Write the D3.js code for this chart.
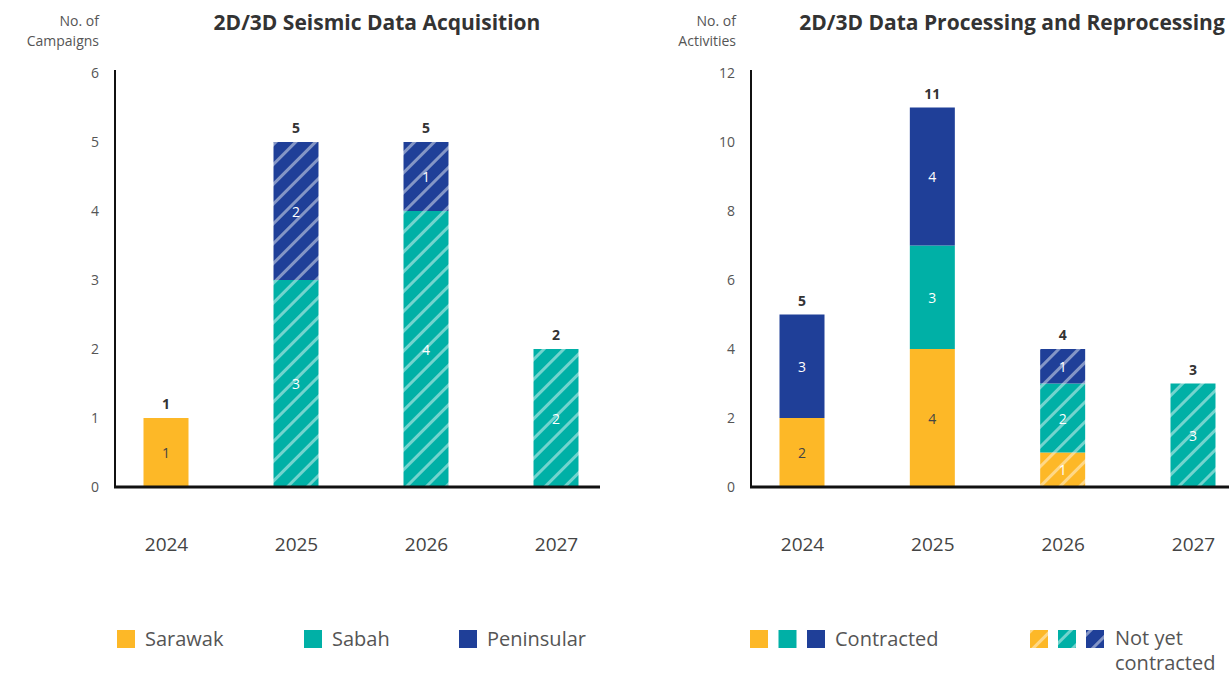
<!DOCTYPE html>
<html>
<head>
<meta charset="utf-8">
<script src="https://cdn.jsdelivr.net/npm/d3@7"></script>
<style>
  body { margin: 0; background: #fff; font-family: 'Open Sans', sans-serif; }
</style>
</head>
<body>
<div id="chart"></div>
<script>
let years = ['2024', '2025', '2026', '2027']
let regions = ['Sarawak', 'Sabah', 'Peninsular']

// seismic acquisition campaigns
let acqSarawak = [1, 0, 0, 0]
let acqSabah = [0, 3, 4, 2]
let acqPeninsular = [0, 2, 1, 0]
let acqContracted = [true, false, false, false]

// processing / reprocessing activities
let procSarawak = [2, 4, 1, 0]
let procSabah = [0, 3, 2, 3]
let procPeninsular = [3, 4, 1, 0]
let procContracted = [true, true, false, false]

let acqTicks = [0, 1, 2, 3, 4, 5, 6]
let procTicks = [0, 2, 4, 6, 8, 10, 12]

let colorScale = d3.scaleOrdinal()
  .domain(regions)
  .range(['#FDB827', '#00B0A6', '#1F3F98'])

let width = 1229
let height = 675
let font = "'Open Sans', sans-serif"

let svg = d3.select('#chart')
  .append('svg')
  .attr('width', width)
  .attr('height', height)
  .attr('font-family', font)

let defs = svg.append('defs')
regions.forEach(r => {
  let p = defs.append('pattern')
    .attr('id', 'hatch-' + r)
    .attr('patternUnits', 'userSpaceOnUse')
    .attr('width', 14)
    .attr('height', 14)
    .attr('patternTransform', 'rotate(45)')
  p.append('rect')
    .attr('width', 14)
    .attr('height', 14)
    .attr('fill', colorScale(r))
  p.append('rect')
    .attr('x', 0)
    .attr('width', 3)
    .attr('height', 14)
    .attr('fill', 'rgba(255,255,255,0.45)')
})

function drawChart(opts) {
  let g = svg.append('g')

  let xPositionScale = d3.scalePoint()
    .domain(years)
    .range(opts.xRange)

  let yPositionScale = d3.scaleLinear()
    .domain([0, opts.max])
    .range([487, 73])

  let rows = years.map((y, i) => ({
    year: y,
    Sarawak: opts.data[0][i],
    Sabah: opts.data[1][i],
    Peninsular: opts.data[2][i],
    contracted: opts.contracted[i]
  }))

  let stacked = d3.stack().keys(regions)(rows)

  let barW = 45

  stacked.forEach(layer => {
    let key = layer.key
    g.selectAll('.bar-' + key)
      .data(layer.filter(d => d[1] > d[0]))
      .enter()
      .append('rect')
      .attr('x', d => xPositionScale(d.data.year) - barW / 2)
      .attr('y', d => yPositionScale(d[1]))
      .attr('width', barW)
      .attr('height', d => yPositionScale(d[0]) - yPositionScale(d[1]))
      .attr('fill', d => d.data.contracted ? colorScale(key) : `url(#hatch-${key})`)

    g.selectAll('.val-' + key)
      .data(layer.filter(d => d[1] > d[0]))
      .enter()
      .append('text')
      .attr('x', d => xPositionScale(d.data.year))
      .attr('y', d => (yPositionScale(d[0]) + yPositionScale(d[1])) / 2)
      .attr('text-anchor', 'middle')
      .attr('dominant-baseline', 'central')
      .attr('font-size', 14)
      .attr('fill', d => (key === 'Sarawak' && d.data.contracted) ? '#444' : '#fff')
      .text(d => d[1] - d[0])
  })

  // totals
  g.selectAll('.total')
    .data(rows)
    .enter()
    .append('text')
    .attr('x', d => xPositionScale(d.year))
    .attr('y', d => yPositionScale(d.Sarawak + d.Sabah + d.Peninsular) - 9)
    .attr('text-anchor', 'middle')
    .attr('font-size', 14)
    .attr('font-weight', 'bold')
    .attr('fill', '#333')
    .text(d => d.Sarawak + d.Sabah + d.Peninsular)

  // y axis
  let yAxis = d3.axisLeft(yPositionScale)
    .tickValues(opts.ticks)
    .tickFormat(d3.format('d'))
    .tickSize(0)
    .tickPadding(16)
  let ya = g.append('g')
    .attr('transform', `translate(${opts.axisX},0)`)
    .call(yAxis)
  ya.select('.domain').remove()
  ya.selectAll('text')
    .attr('font-size', 14)
    .attr('font-family', font)
    .attr('fill', '#555')

  g.append('line')
    .attr('x1', opts.axisX)
    .attr('x2', opts.axisX)
    .attr('y1', 70)
    .attr('y2', 487)
    .attr('stroke', '#111')
    .attr('stroke-width', 2)

  // x axis
  let xAxis = d3.axisBottom(xPositionScale).tickSize(0).tickPadding(51)
  let xa = g.append('g')
    .attr('transform', 'translate(0,487)')
    .call(xAxis)
  xa.select('.domain').remove()
  xa.selectAll('text')
    .attr('font-size', 19)
    .attr('font-family', font)
    .attr('fill', '#444')

  g.append('line')
    .attr('x1', opts.axisX - 1)
    .attr('x2', opts.axisEnd)
    .attr('y1', 487)
    .attr('y2', 487)
    .attr('stroke', '#111')
    .attr('stroke-width', 3)

  // titles
  g.append('text')
    .attr('x', opts.titleX)
    .attr('y', 30)
    .attr('text-anchor', 'middle')
    .attr('font-size', 21)
    .attr('font-weight', 'bold')
    .attr('fill', '#333')
    .text(opts.title)

  opts.yLabel.forEach((t, i) => {
    g.append('text')
      .attr('x', opts.yLabelX)
      .attr('y', 26 + i * 20)
      .attr('text-anchor', 'end')
      .attr('font-size', 14)
      .attr('fill', '#555')
      .text(t)
  })
}

drawChart({
  data: [acqSarawak, acqSabah, acqPeninsular],
  contracted: acqContracted,
  max: 6,
  ticks: acqTicks,
  xRange: [166, 556],
  axisX: 115,
  axisEnd: 600,
  title: '2D/3D Seismic Data Acquisition',
  titleX: 377,
  yLabel: ['No. of', 'Campaigns'],
  yLabelX: 99
})

drawChart({
  data: [procSarawak, procSabah, procPeninsular],
  contracted: procContracted,
  max: 12,
  ticks: procTicks,
  xRange: [802, 1193],
  axisX: 751,
  axisEnd: 1229,
  title: '2D/3D Data Processing and Reprocessing',
  titleX: 1012,
  yLabel: ['No. of', 'Activities'],
  yLabelX: 736
})

// legend left
let legend = svg.append('g').attr('transform', 'translate(0,630)')
let legendX = [117, 304, 459]
legend.selectAll('.legend-entry')
  .data(regions)
  .enter()
  .append('g')
  .attr('class', 'legend-entry')
  .attr('transform', (d, i) => `translate(${legendX[i]},0)`)
  .each(function (d) {
    let g = d3.select(this)
    g.append('rect')
      .attr('width', 18)
      .attr('height', 18)
      .attr('fill', colorScale(d))
    g.append('text')
      .text(d)
      .attr('x', 28)
      .attr('y', 16)
      .attr('font-size', 20)
      .attr('fill', '#555')
  })

// legend right
let legend2 = svg.append('g').attr('transform', 'translate(0,630)')
regions.forEach((r, i) => {
  legend2.append('rect')
    .attr('x', 750 + i * 28.5)
    .attr('width', 18)
    .attr('height', 18)
    .attr('fill', colorScale(r))
  legend2.append('rect')
    .attr('x', 1030 + i * 28)
    .attr('width', 18)
    .attr('height', 18)
    .attr('fill', `url(#hatch-${r})`)
})
legend2.append('text')
  .attr('x', 835)
  .attr('y', 16)
  .attr('font-size', 20)
  .attr('fill', '#555')
  .text('Contracted')
legend2.append('text')
  .attr('x', 1115)
  .attr('y', 15)
  .attr('font-size', 20)
  .attr('fill', '#555')
  .text('Not yet')
legend2.append('text')
  .attr('x', 1115)
  .attr('y', 40)
  .attr('font-size', 20)
  .attr('fill', '#555')
  .text('contracted')
</script>
</body>
</html>
